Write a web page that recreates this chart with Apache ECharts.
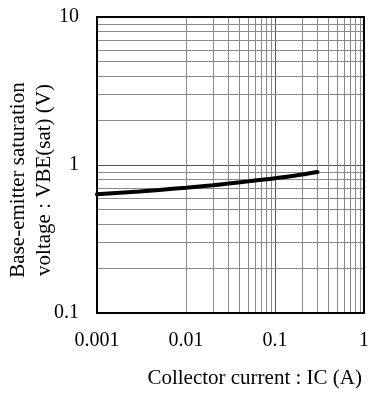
<!DOCTYPE html>
<html><head><meta charset="utf-8">
<script src="https://cdn.jsdelivr.net/npm/echarts@6/dist/echarts.min.js"></script>
<style>html,body{margin:0;padding:0;background:#fff}#c{width:372px;height:394px}</style>
</head><body><div id="c"></div>
<script>
// Data
const icValues = [0.001, 0.002, 0.003, 0.005, 0.01, 0.02, 0.03, 0.05, 0.1, 0.2, 0.3];
const vbeValues = [0.634, 0.652, 0.663, 0.679, 0.703, 0.73, 0.749, 0.775, 0.813, 0.862, 0.897];
const xTickLabels = ['0.001', '0.01', '0.1', '1'];
const yTickLabels = ['0.1', '1', '10'];
const xName = 'Collector current : IC (A)';
const yName = 'Base-emitter saturation\nvoltage : VBE(sat) (V)';

const FONT = '"Liberation Serif", "Times New Roman", serif';
const xMinor = [], yMinor = [];
for (let d = -3; d < 0; d++) for (let k = 2; k <= 9; k++) xMinor.push(+(k * Math.pow(10, d)).toPrecision(3));
for (let d = -1; d < 1; d++) for (let k = 2; k <= 9; k++) yMinor.push(+(k * Math.pow(10, d)).toPrecision(3));

const chart = echarts.init(document.getElementById('c'), null, {renderer: 'canvas'});
const gridLineStyle = {color: '#8a8a8a', width: 1, type: 'solid'};
chart.setOption({
  animation: false,
  grid: {left: 97, top: 17, right: 5, bottom: 81, show: true, borderColor: '#000', borderWidth: 2, z: 10},
  xAxis: {
    type: 'log', logBase: 10, min: 0.001, max: 1,
    axisLine: {show: false}, axisTick: {show: false},
    axisLabel: {margin: 18, fontFamily: FONT, fontSize: 20, color: '#000',
      formatter: v => xTickLabels.find(t => Math.abs(Math.log10(+t) - Math.log10(v)) < 1e-6) || ''},
    splitLine: {show: true, lineStyle: {color: '#555', width: 1}}
  },
  yAxis: {
    type: 'log', logBase: 10, min: 0.1, max: 10,
    axisLine: {show: false}, axisTick: {show: false},
    axisLabel: {margin: 18, fontFamily: FONT, fontSize: 20, color: '#000',
      formatter: v => yTickLabels.find(t => Math.abs(Math.log10(+t) - Math.log10(v)) < 1e-6) || ''},
    splitLine: {show: true, lineStyle: {color: '#555', width: 1}}
  },
  graphic: [
    {type: 'text', x: 362, y: 378, style: {text: xName, font: '21px ' + FONT, fill: '#000', textAlign: 'right', textVerticalAlign: 'middle'}},
    {type: 'text', x: 31, y: 180, rotation: Math.PI / 2, style: {text: yName, font: '21px ' + FONT, fill: '#000', textAlign: 'center', textVerticalAlign: 'middle', lineHeight: 26}}
  ],
  series: [
    {type: 'line', data: [], silent: true,
      markLine: {symbol: 'none', silent: true, label: {show: false}, lineStyle: gridLineStyle, animation: false,
        data: xMinor.map(v => ({xAxis: v})).concat(yMinor.map(v => ({yAxis: v})))}},
    {type: 'line', data: icValues.map((x, i) => [x, vbeValues[i]]), smooth: 0.3, showSymbol: false,
      lineStyle: {color: '#000', width: 4, cap: 'round'}, z: 5}
  ]
});
</script></body></html>
